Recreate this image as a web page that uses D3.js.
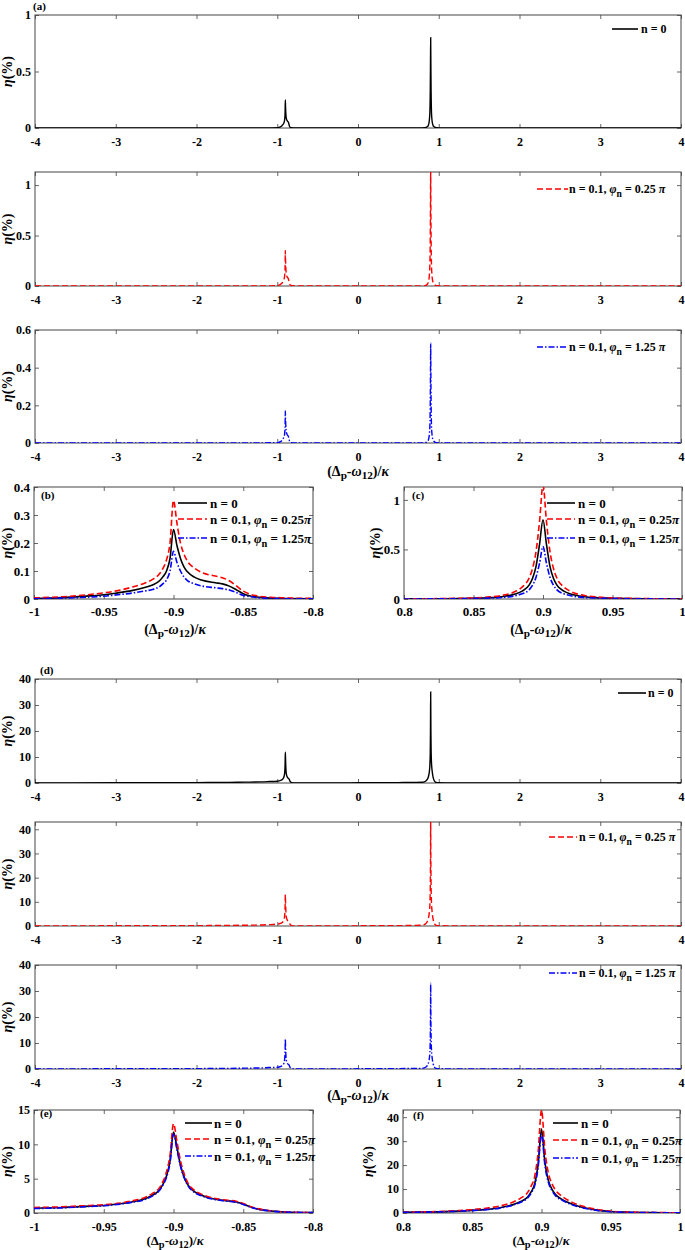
<!DOCTYPE html>
<meta charset="utf-8">
<style>
  body { margin: 0; background: #fff; }
  svg text { font-family: "Liberation Serif", "Times New Roman", serif; font-weight: bold; fill: #000; }
</style>
<body>
<div id="chart"></div>
<script src="https://d3js.org/d3.v7.min.js"></script>
<script>

// ---- data ----
// x samples around the two resonances (zoomed panels)
var xLeft = [-1, -0.98, -0.96, -0.95, -0.94, -0.93, -0.92, -0.915, -0.91, -0.9075, -0.905, -0.9025, -0.9,
             -0.8975, -0.895, -0.8925, -0.89, -0.885, -0.88, -0.87, -0.865, -0.86, -0.855, -0.85, -0.845, -0.84, -0.83, -0.82, -0.8];
var xRight = [0.8, 0.82, 0.84, 0.85, 0.86, 0.87, 0.88, 0.885, 0.89, 0.8925, 0.895, 0.8975, 0.9,
              0.9025, 0.905, 0.9075, 0.91, 0.915, 0.92, 0.93, 0.94, 0.95, 0.96, 0.98, 1.0];
// extra x samples away from the peaks (wide panels)
var xWideL = [-4, -3, -2, -1.6, -1.4, -1.2, -1.1];
var xWideM = [-0.7, -0.5, -0.2, 0, 0.2, 0.5, 0.7];
var xWideR = [1.1, 1.2, 1.5, 2, 3, 4];

// set (a)-(c)
var aN0Left   = [0.002, 0.005, 0.011, 0.015, 0.022, 0.03, 0.042, 0.05, 0.065, 0.08, 0.1, 0.145, 0.248,
                 0.19, 0.145, 0.115, 0.097, 0.078, 0.068, 0.058, 0.054, 0.046, 0.033, 0.019, 0.011, 0.007, 0.003, 0.002, 0.001];
var aP025Left = [0.004, 0.008, 0.016, 0.022, 0.03, 0.042, 0.058, 0.07, 0.09, 0.11, 0.14, 0.2, 0.352,
                 0.27, 0.2, 0.16, 0.135, 0.11, 0.095, 0.082, 0.076, 0.065, 0.047, 0.028, 0.017, 0.011, 0.006, 0.004, 0.002];
var aP125Left = [0.001, 0.003, 0.007, 0.01, 0.015, 0.021, 0.029, 0.034, 0.044, 0.055, 0.068, 0.1, 0.17,
                 0.13, 0.1, 0.079, 0.066, 0.054, 0.047, 0.04, 0.037, 0.032, 0.023, 0.013, 0.008, 0.005, 0.002, 0.001, 0.0005];
var aN0Right   = [0.001, 0.002, 0.005, 0.008, 0.013, 0.023, 0.05, 0.08, 0.14, 0.21, 0.33, 0.55, 0.8,
                  0.55, 0.33, 0.21, 0.14, 0.08, 0.05, 0.023, 0.013, 0.008, 0.005, 0.002, 0.001];
var aP025Right = [0.002, 0.003, 0.007, 0.011, 0.019, 0.035, 0.075, 0.12, 0.21, 0.31, 0.48, 0.78, 1.15,
                  0.78, 0.48, 0.31, 0.21, 0.12, 0.075, 0.035, 0.019, 0.011, 0.007, 0.003, 0.002];
var aP125Right = [0.0005, 0.001, 0.003, 0.005, 0.009, 0.015, 0.033, 0.053, 0.092, 0.14, 0.22, 0.36, 0.53,
                  0.36, 0.22, 0.14, 0.092, 0.053, 0.033, 0.015, 0.009, 0.005, 0.003, 0.001, 0.0005];
var aTailL = [0, 0, 0, 0, 0, 0, 0.001];
var aTailM = [0.0005, 0, 0, 0, 0, 0, 0.0005];
var aTailR = [0.0005, 0, 0, 0, 0, 0];

// set (d)-(f)
var dN0Left   = [0.7, 0.8, 1.0, 1.1, 1.3, 1.6, 2.1, 2.6, 3.4, 4.2, 5.4, 7.6, 11.8,
                 9.5, 7.0, 5.3, 4.2, 3.1, 2.6, 2.0, 1.85, 1.75, 1.6, 1.3, 0.9, 0.6, 0.3, 0.15, 0.05];
var dP025Left = [0.8, 0.9, 1.1, 1.2, 1.4, 1.75, 2.3, 2.85, 3.7, 4.6, 6.0, 8.4, 13.0,
                 10.4, 7.6, 5.8, 4.5, 3.3, 2.75, 2.1, 1.95, 1.85, 1.7, 1.4, 0.95, 0.65, 0.32, 0.16, 0.06];
var dP125Left = [0.65, 0.75, 0.95, 1.05, 1.25, 1.55, 2.0, 2.5, 3.3, 4.1, 5.2, 7.3, 11.5,
                 9.2, 6.8, 5.2, 4.1, 3.0, 2.5, 1.95, 1.8, 1.7, 1.55, 1.25, 0.85, 0.57, 0.28, 0.14, 0.05];
var dN0Right   = [0.3, 0.45, 0.8, 1.1, 1.5, 2.2, 3.6, 4.8, 6.7, 8.8, 12, 20, 35,
                  21, 13.5, 10, 7.8, 5.6, 4.2, 2.3, 1.2, 0.6, 0.35, 0.15, 0.1];
var dP025Right = [0.35, 0.55, 1.0, 1.4, 2.0, 2.9, 4.7, 6.2, 8.6, 11.2, 15, 25, 43,
                  26, 16.5, 12.3, 9.6, 6.9, 5.1, 2.8, 1.5, 0.75, 0.4, 0.18, 0.12];
var dP125Right = [0.28, 0.42, 0.75, 1.0, 1.4, 2.05, 3.4, 4.5, 6.3, 8.3, 11.3, 18.8, 33,
                  19.8, 12.7, 9.4, 7.3, 5.3, 3.9, 2.1, 1.1, 0.55, 0.32, 0.14, 0.09];
var dTailL = [0.05, 0.08, 0.15, 0.25, 0.32, 0.42, 0.55];
var dTailM = [0.02, 0.03, 0.05, 0.07, 0.1, 0.16, 0.22];
var dTailR = [0.06, 0.04, 0.02, 0.01, 0.005, 0.003];

var xTicksWide = [-4, -3, -2, -1, 0, 1, 2, 3, 4];
var xTicksB = [-1, -0.95, -0.9, -0.85, -0.8];
var xTicksC = [0.8, 0.85, 0.9, 0.95, 1];

var FONT = "'Liberation Serif', 'Times New Roman', serif";

// ---- helpers ----
function zip(xs, ys) { return xs.map(function(x, i){ return {x: x, y: ys[i]}; }); }
function wide(tL, left, tM, right, tR) {
  return zip(xWideL.concat(xLeft, xWideM, xRight, xWideR), tL.concat(left, tM, right, tR));
}

var styles = {
  n0:   {color: "#000000", dash: null},
  p025: {color: "#ff0000", dash: "6,3"},
  p125: {color: "#0000ff", dash: "6,2,1.5,2"}
};

var wideData = {
  a: { n0: wide(aTailL, aN0Left, aTailM, aN0Right, aTailR),
       p025: wide(aTailL, aP025Left, aTailM, aP025Right, aTailR),
       p125: wide(aTailL, aP125Left, aTailM, aP125Right, aTailR) },
  d: { n0: wide(dTailL, dN0Left, dTailM, dN0Right, dTailR),
       p025: wide(dTailL, dP025Left, dTailM, dP025Right, dTailR),
       p125: wide(dTailL, dP125Left, dTailM, dP125Right, dTailR) }
};
var zoomData = {
  b: { n0: zip(xLeft, aN0Left), p025: zip(xLeft, aP025Left), p125: zip(xLeft, aP125Left) },
  c: { n0: zip(xRight, aN0Right), p025: zip(xRight, aP025Right), p125: zip(xRight, aP125Right) },
  e: { n0: zip(xLeft, dN0Left), p025: zip(xLeft, dP025Left), p125: zip(xLeft, dP125Left) },
  f: { n0: zip(xRight, dN0Right), p025: zip(xRight, dP025Right), p125: zip(xRight, dP125Right) }
};

var svg = d3.select("#chart").append("svg")
    .attr("width", 685).attr("height", 1250)
    .attr("font-family", FONT).attr("font-weight", "bold");

function legendText(t, key, spaced) {
  if (key === "n0") { t.text("n = 0"); return; }
  t.append("tspan").text("n = 0.1, ");
  t.append("tspan").style("font-style", "italic").text("\u03c6");
  t.append("tspan").attr("dy", 4).attr("font-size", "0.8em").text("n");
  t.append("tspan").attr("dy", -4).text(" = " + (key === "p025" ? "0.25" : "1.25") + (spaced ? " " : ""));
  t.append("tspan").style("font-style", "italic").text("\u03c0");
}

function xTitle(cx, cy, size) {
  var t = svg.append("text").attr("x", cx).attr("y", cy)
      .attr("text-anchor", "middle").attr("font-size", size || 14);
  t.append("tspan").text("(\u0394");
  t.append("tspan").attr("dy", 3).attr("font-size", "0.8em").text("p");
  t.append("tspan").attr("dy", -3).text("-");
  t.append("tspan").style("font-style", "italic").text("\u03c9");
  t.append("tspan").attr("dy", 3).attr("font-size", "0.8em").text("12");
  t.append("tspan").attr("dy", -3).text(")/");
  t.append("tspan").style("font-style", "italic").text("\u03ba");
}

function panel(p) {
  var x = d3.scaleLinear().domain(p.xd).range([p.x0, p.x1]);
  var y = d3.scaleLinear().domain(p.yd).range([p.y1, p.y0]);
  var fmt = function(d){ return String(d); };

  var g = svg.append("g");
  var clipId = "clip-" + p.id;
  g.append("clipPath").attr("id", clipId).append("rect")
      .attr("x", p.x0).attr("y", p.y0).attr("width", p.x1 - p.x0).attr("height", p.y1 - p.y0);

  // inward ticks on all four sides
  var gx = g.append("g").attr("transform", "translate(0," + p.y1 + ")")
      .call(d3.axisBottom(x).tickValues(p.xt).tickFormat(fmt).tickSize(-4).tickSizeOuter(0).tickPadding(p.xpad));
  var gxt = g.append("g").attr("transform", "translate(0," + p.y0 + ")")
      .call(d3.axisTop(x).tickValues(p.xt).tickFormat("").tickSize(-4).tickSizeOuter(0));
  var gy = g.append("g").attr("transform", "translate(" + p.x0 + ",0)")
      .call(d3.axisLeft(y).tickValues(p.yt).tickFormat(fmt).tickSize(-4).tickSizeOuter(0).tickPadding(4));
  var gyr = g.append("g").attr("transform", "translate(" + p.x1 + ",0)")
      .call(d3.axisRight(y).tickValues(p.yt).tickFormat("").tickSize(-4).tickSizeOuter(0));
  [gx, gxt, gy, gyr].forEach(function(a){
    a.attr("font-family", FONT).attr("font-size", p.fs);
    a.select(".domain").remove();
    a.selectAll(".tick line").attr("stroke", "#555").attr("stroke-width", 0.9);
    a.selectAll("text").attr("font-weight", "bold");
  });

  g.append("rect").attr("x", p.x0).attr("y", p.y0)
      .attr("width", p.x1 - p.x0).attr("height", p.y1 - p.y0)
      .attr("fill", "none").attr("stroke", "#444").attr("stroke-width", 1);

  var line = d3.line().x(function(d){ return x(d.x); }).y(function(d){ return y(d.y); })
      .curve(d3.curveMonotoneX);
  var lines = g.append("g").attr("clip-path", "url(#" + clipId + ")");
  p.keys.forEach(function(k){
    lines.append("path").datum(p.data[k])
        .attr("d", line).attr("fill", "none")
        .attr("stroke", styles[k].color).attr("stroke-width", p.lw)
        .attr("stroke-dasharray", styles[k].dash);
  });

  // legend
  var L = p.legend;
  p.keys.forEach(function(k, i){
    var ly = L.ys[i];
    g.append("line").attr("x1", L.lx0).attr("x2", L.lx1).attr("y1", ly).attr("y2", ly)
        .attr("stroke", styles[k].color).attr("stroke-width", 1.6)
        .attr("stroke-dasharray", styles[k].dash);
    var t = g.append("text").attr("x", L.tx).attr("y", ly + L.fs * 0.35).attr("font-size", L.fs);
    legendText(t, k, L.spaced);
  });

  // y label
  var yl = g.append("text").attr("font-size", 14).attr("text-anchor", "middle")
      .attr("transform", "translate(" + p.ylx + "," + ((p.y0 + p.y1) / 2) + ") rotate(-90)");
  yl.append("tspan").style("font-style", "italic").text("\u03b7");
  yl.append("tspan").text("(%)");

  if (p.tag) {
    g.append("text").attr("x", p.tag[0]).attr("y", p.tag[1]).attr("font-size", 11).text(p.tag[2]);
  }
}

var wideLegend = function(lx0, lx1, tx, ly) {
  return {lx0: lx0, lx1: lx1, tx: tx, ys: [ly], fs: 12, spaced: true};
};

var panels = [
  {id: "a1", x0: 35, x1: 681, y0: 15, y1: 128, xd: [-4, 4], yd: [0, 1], xt: xTicksWide, yt: [0, 0.5, 1],
   data: wideData.a, keys: ["n0"], legend: wideLegend(612, 638, 641, 29), tag: [33, 10, "(a)"]},
  {id: "a2", x0: 35, x1: 681, y0: 172, y1: 286, xd: [-4, 4], yd: [0, 1.13], xt: xTicksWide, yt: [0, 0.5, 1],
   data: wideData.a, keys: ["p025"], legend: wideLegend(537, 568, 569, 189)},
  {id: "a3", x0: 35, x1: 681, y0: 330, y1: 443, xd: [-4, 4], yd: [0, 0.6], xt: xTicksWide, yt: [0, 0.2, 0.4, 0.6],
   data: wideData.a, keys: ["p125"], legend: wideLegend(537, 568, 569, 347)},
  {id: "b", x0: 34, x1: 313, y0: 487, y1: 599, xd: [-1, -0.8], yd: [0, 0.4], xt: xTicksB, yt: [0, 0.1, 0.2, 0.3, 0.4],
   data: zoomData.b, keys: ["n0", "p025", "p125"], fs: 13, lw: 1.6, ylx: 12, xpad: 8,
   legend: {lx0: 178, lx1: 207, tx: 210, ys: [503, 519, 538], fs: 13}, tag: [41, 499, "(b)"]},
  {id: "c", x0: 404, x1: 682, y0: 487, y1: 599, xd: [0.8, 1], yd: [0, 1.13], xt: xTicksC, yt: [0, 0.5, 1],
   data: zoomData.c, keys: ["n0", "p025", "p125"], fs: 13, lw: 1.6, ylx: 380, xpad: 8,
   legend: {lx0: 547, lx1: 575, tx: 578, ys: [503, 519, 538], fs: 13}, tag: [412, 499, "(c)"]},
  {id: "d1", x0: 35, x1: 681, y0: 679, y1: 783, xd: [-4, 4], yd: [0, 40], xt: xTicksWide, yt: [0, 10, 20, 30, 40],
   data: wideData.d, keys: ["n0"], legend: wideLegend(618, 646, 648, 693), tag: [40, 674, "(d)"]},
  {id: "d2", x0: 35, x1: 681, y0: 822, y1: 926, xd: [-4, 4], yd: [0, 43], xt: xTicksWide, yt: [0, 10, 20, 30, 40],
   data: wideData.d, keys: ["p025"], legend: wideLegend(549, 577, 579, 837)},
  {id: "d3", x0: 35, x1: 681, y0: 965, y1: 1069, xd: [-4, 4], yd: [0, 40], xt: xTicksWide, yt: [0, 10, 20, 30, 40],
   data: wideData.d, keys: ["p125"], legend: wideLegend(549, 577, 579, 973)},
  {id: "e", x0: 34, x1: 313, y0: 1110, y1: 1213, xd: [-1, -0.8], yd: [0, 15], xt: xTicksB, yt: [0, 5, 10, 15],
   data: zoomData.e, keys: ["n0", "p025", "p125"], fs: 12, lw: 1.6, ylx: 12, xpad: 9,
   legend: {lx0: 185, lx1: 212, tx: 214, ys: [1123, 1139, 1156], fs: 13}, tag: [40, 1117, "(e)"]},
  {id: "f", x0: 403, x1: 680, y0: 1110, y1: 1213, xd: [0.8, 1], yd: [0, 43], xt: xTicksC, yt: [0, 10, 20, 30, 40],
   data: zoomData.f, keys: ["n0", "p025", "p125"], fs: 12, lw: 1.6, ylx: 373, xpad: 9,
   legend: {lx0: 553, lx1: 578, tx: 581, ys: [1123, 1140, 1158], fs: 13}, tag: [413, 1119, "(f)"]}
];

panels.forEach(function(p){
  if (p.fs === undefined) { p.fs = 12; p.lw = 1.4; p.ylx = 12; p.xpad = 9; }
  panel(p);
});

xTitle(358, 476);
xTitle(175, 634);
xTitle(541, 634);
xTitle(358, 1100);
xTitle(175, 1245, 13);
xTitle(541, 1245, 13);

</script>
</body>
